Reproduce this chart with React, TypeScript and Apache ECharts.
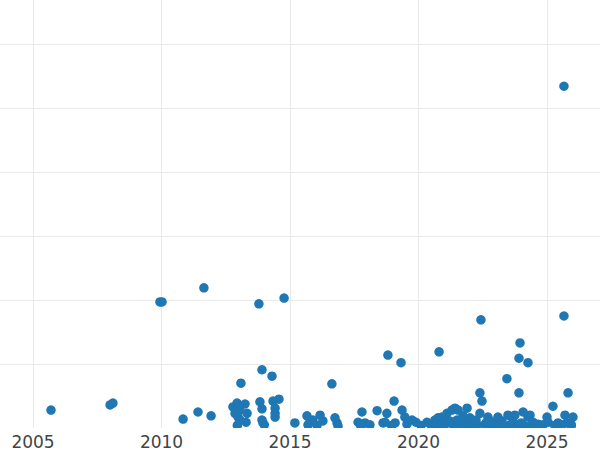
import React, { useEffect, useRef } from "react";
import * as echarts from "echarts";

const years: number[] = [
  2005.7, 2008.0, 2008.11, 2009.94, 2010.02, 2010.84, 2011.42, 2011.65, 2011.93,
  2012.78, 2012.94, 2013.09, 2013.25, 2013.05, 2012.86, 2013.33, 2012.98, 2013.29, 2013.05,
  2013.83, 2013.91, 2013.91, 2013.95, 2013.91, 2013.79, 2014.3, 2014.34, 2014.57, 2014.42,
  2014.42, 2014.42, 2014.77, 2015.19,
  2015.66, 2015.78, 2015.89, 2016.17, 2016.28, 2016.63, 2016.75, 2016.83, 2016.87,
  2017.65, 2017.8, 2017.92, 2018.11, 2018.39, 2018.62, 2018.77, 2018.81, 2018.7,
  2019.05, 2019.09, 2019.32, 2019.36, 2019.47, 2019.55, 2019.75, 2019.9, 2020.33,
  2020.64, 2020.8, 2020.76, 2020.91, 2020.95, 2021.11, 2021.19, 2021.3, 2021.42, 2021.5,
  2021.54, 2021.61, 2021.73, 2021.81, 2021.89, 2022.0, 2022.08, 2022.24, 2022.39, 2022.39,
  2022.47, 2022.43, 2022.59, 2022.7, 2022.78, 2022.94, 2023.09, 2023.25, 2023.44, 2023.48,
  2023.64, 2023.75, 2023.91, 2023.91, 2023.95, 2024.07, 2024.26, 2024.26, 2024.34, 2024.46,
  2024.65, 2024.84, 2025.0, 2025.04, 2025.23, 2025.43, 2025.66, 2025.66, 2025.7, 2025.78,
  2025.82, 2026.01, 2025.93, 2025.58,
  2020.5, 2020.7, 2021.0, 2021.35, 2021.7, 2021.95, 2022.15, 2022.3, 2022.85, 2023.0,
  2023.15, 2023.35, 2023.55, 2023.85, 2024.15, 2024.4, 2024.55, 2020.1, 2018.95, 2017.75,
  2016.05, 2015.7, 2014.0, 2012.95, 2021.25, 2021.65, 2022.65, 2023.7, 2024.0, 2025.3, 2025.95,
];

const values: number[] = [
  2.8, 3.6, 3.9, 19.7, 19.7, 1.4, 2.5, 21.9, 1.9,
  3.3, 3.9, 7.0, 3.75, 2.8, 2.3, 2.3, 1.7, 0.9, 1.25,
  4.1, 3.0, 1.25, 0.8, 9.1, 19.4, 8.1, 4.2, 4.5, 3.1,
  2.3, 1.7, 20.3, 0.8,
  1.9, 0.9, 1.25, 2.0, 1.1, 6.9, 1.6, 0.8, 0.3,
  0.9, 2.5, 0.8, 0.5, 2.7, 0.8, 2.3, 11.4, 0.9,
  4.2, 0.8, 10.2, 2.8, 1.7, 0.6, 1.25, 0.9, 0.9,
  1.25, 11.9, 1.6, 1.7, 0.6, 2.3, 1.1, 2.8, 3.1, 1.25,
  2.8, 0.5, 1.9, 0.9, 3.1, 1.6, 0.6, 1.25, 2.3, 5.5,
  4.2, 16.9, 0.6, 1.7, 1.1, 0.6, 1.7, 1.1, 7.7, 2.0,
  1.7, 2.0, 5.5, 10.9, 13.3, 2.5, 10.2, 1.7, 2.0, 0.9,
  0.6, 0.5, 1.7, 0.9, 3.4, 0.8, 17.5, 53.4, 2.0, 0.8,
  5.5, 1.7, 0.6, 0.5,
  0.4, 0.5, 0.3, 0.5, 0.4, 0.3, 0.5, 0.4, 0.3, 0.5,
  0.4, 0.3, 0.5, 0.4, 0.3, 0.5, 0.4, 0.4, 0.4, 0.4,
  0.4, 0.5, 0.5, 0.4, 1.0, 1.2, 0.9, 0.9, 0.8, 0.4, 0.4,
];

const xMin = 2000;
const xMax = 2030;
const xStep = 5;
const yMin = 0;
const yMax = 70;
const yStep = 10;

export default function App() {
  const ref = useRef<HTMLDivElement>(null);
  useEffect(() => {
    if (!ref.current) return;
    const chart = echarts.init(ref.current, null, { renderer: "svg" });
    const data = years.map((y, i) => [y, values[i]]);
    const grid = "#e9e9e9";
    chart.setOption({
      animation: false,
      backgroundColor: "#ffffff",
      grid: {
        left: -95.5,
        right: -75.5,
        top: -20,
        bottom: 22,
        containLabel: false,
        outerBoundsMode: "none",
      },
      xAxis: [
        {
          type: "value",
          min: xMin,
          max: xMax,
          interval: xStep,
          axisLine: { show: false },
          axisTick: { show: false },
          axisLabel: { show: false },
          splitLine: { show: true, lineStyle: { color: grid, width: 1 } },
        },
        {
          type: "value",
          gridIndex: 0,
          position: "bottom",
          min: xMin,
          max: xMax,
          interval: xStep,
          z: 20,
          axisLine: { show: false },
          axisTick: { show: false },
          splitLine: { show: false },
          axisLabel: {
            show: true,
            showMinLabel: false,
            showMaxLabel: false,
            margin: 5,
            color: "#444444",
            fontFamily: "DejaVu Sans",
            fontSize: 17,
            formatter: (v: number) => String(v),
          },
        },
      ],
      yAxis: {
        type: "value",
        min: yMin,
        max: yMax,
        interval: yStep,
        axisLine: { show: false },
        axisTick: { show: false },
        axisLabel: { show: false },
        splitLine: { show: true, lineStyle: { color: grid, width: 1 } },
      },
      graphic: [
        {
          type: "rect",
          z: 10,
          shape: { x: 0, y: 428, width: 600, height: 22 },
          style: { fill: "#ffffff" },
          silent: true,
        },
      ],
      series: [
        {
          type: "scatter",
          xAxisIndex: 0,
          yAxisIndex: 0,
          data,
          symbol: "circle",
          symbolSize: 9.5,
          clip: false,
          itemStyle: { color: "#1f77b4", opacity: 1 },
        },
      ],
    });
    return () => chart.dispose();
  }, []);
  return (
    <div
      ref={ref}
      style={{ position: "absolute", left: 0, top: 0, width: 600, height: 450, background: "#fff" }}
    />
  );
}
